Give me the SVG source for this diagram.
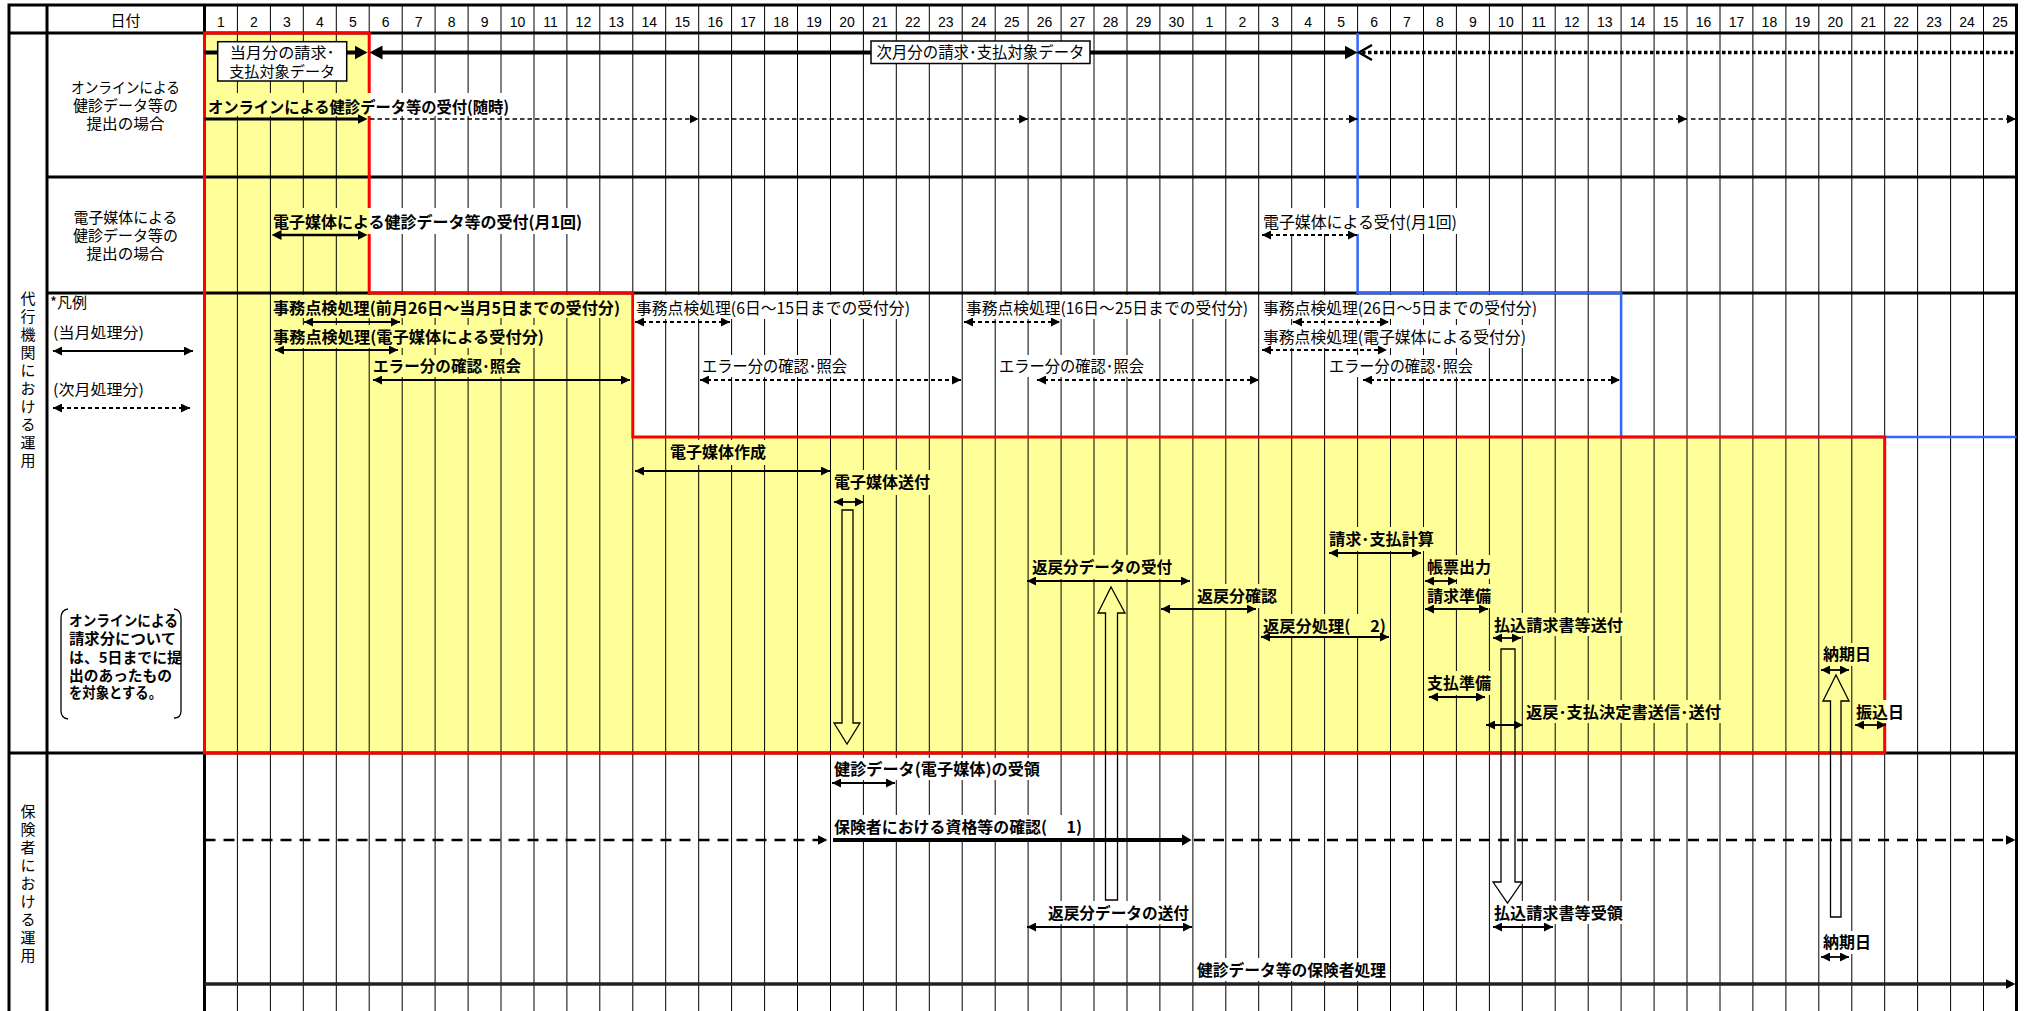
<svg xmlns="http://www.w3.org/2000/svg" width="2025" height="1011" viewBox="0 0 2025 1011">
<defs>
<style>
.t{font-family:"Noto Sans CJK JP","Noto Sans",sans-serif;font-size:16px;fill:#000}
.b{font-weight:bold}
.s15{font-size:15px}
.s14{font-size:14.5px}
.m{text-anchor:middle}
.n{font-family:"Liberation Sans",Arial,sans-serif;font-size:14px;text-anchor:middle;fill:#000}
.grid{stroke:#000;stroke-width:1;fill:none}
.thick{stroke:#000;stroke-width:3;fill:none}
.bw{fill:#fff}
.by{fill:#FFFF99}
.sol{stroke:#000;stroke-width:1.8;fill:none}
.dot{stroke:#000;stroke-width:2;stroke-dasharray:4 3;fill:none}
.blk{stroke:#000;stroke-width:1.3;fill:none}
</style>
<marker id="ah" viewBox="0 0 9 9" refX="9" refY="4.5" markerWidth="9" markerHeight="9" markerUnits="userSpaceOnUse" orient="auto-start-reverse"><path d="M0,0 L9,4.5 L0,9 z" fill="#000"/></marker>
<marker id="ahM" viewBox="0 0 10 10" refX="0.5" refY="5" markerWidth="10" markerHeight="10" markerUnits="userSpaceOnUse" orient="auto-start-reverse"><path d="M0,0 L10,5 L0,10 z" fill="#000"/></marker>
<marker id="ahB" viewBox="0 0 13 14" refX="0.5" refY="7" markerWidth="13" markerHeight="14" markerUnits="userSpaceOnUse" orient="auto-start-reverse"><path d="M0,0 L13,7 L0,14 z" fill="#000"/></marker>
<marker id="ahI" viewBox="0 0 10 12" refX="0.5" refY="6" markerWidth="10" markerHeight="12" markerUnits="userSpaceOnUse" orient="auto-start-reverse"><path d="M0,0 L10,6 L0,12 z" fill="#000"/></marker>
</defs>

<rect width="2025" height="1011" fill="#fff"/>

<g id="yellow-area">
<path d="M204.5,33 H369.2 V293 H632.8 V437 H1884.7 V753 H204.5 Z" fill="#FFFF99"/>
</g>

<g id="grid">
<path class="grid" d="M237.4,5V1011M270.4,5V1011M303.3,5V1011M336.3,5V1011M369.2,5V1011M402.2,5V1011M435.1,5V1011M468.1,5V1011M501,5V1011M534,5V1011M566.9,5V1011M599.8,5V1011M632.8,5V1011M665.7,5V1011M698.7,5V1011M731.6,5V1011M764.6,5V1011M797.5,5V1011M830.5,5V1011M863.4,5V1011M896.3,5V1011M929.3,5V1011M962.2,5V1011M995.2,5V1011M1028.1,5V1011M1061.1,5V1011M1094,5V1011M1127,5V1011M1159.9,5V1011M1192.9,5V1011M1225.8,5V1011M1258.7,5V1011M1291.7,5V1011M1324.6,5V1011M1357.6,5V1011M1390.5,5V1011M1423.5,5V1011M1456.4,5V1011M1489.4,5V1011M1522.3,5V1011M1555.2,5V1011M1588.2,5V1011M1621.1,5V1011M1654.1,5V1011M1687,5V1011M1720,5V1011M1752.9,5V1011M1785.9,5V1011M1818.8,5V1011M1851.8,5V1011M1884.7,5V1011M1917.6,5V1011M1950.6,5V1011M1983.5,5V1011"/>
<path class="thick" d="M9,5H2016.5M9,33H2016.5M47,177H2016.5M47,293H2016.5M9,753H2016.5M9,3.5V1011M47,5V1011M204.5,5V1011M2016.5,3.5V1011"/>
</g>

<g id="outlines">
<path d="M1357.6,33 V293 H1621.1 V437 H2016.5" fill="none" stroke="#3366FF" stroke-width="2.5"/>
<path d="M204.5,33 H369.2 V293 H632.8 V437 H1884.7 V753 H204.5 Z" fill="none" stroke="#FF0000" stroke-width="3"/>
</g>

<g id="header">
<text class="t s15 m" x="125.5" y="25.5">日付</text>
<text class="n" y="27"><tspan x="221">1</tspan><tspan x="253.9">2</tspan><tspan x="286.9">3</tspan><tspan x="319.8">4</tspan><tspan x="352.8">5</tspan><tspan x="385.7">6</tspan><tspan x="418.7">7</tspan><tspan x="451.6">8</tspan><tspan x="484.6">9</tspan><tspan x="517.5">10</tspan><tspan x="550.5">11</tspan><tspan x="583.4">12</tspan><tspan x="616.3">13</tspan><tspan x="649.3">14</tspan><tspan x="682.2">15</tspan><tspan x="715.2">16</tspan><tspan x="748.1">17</tspan><tspan x="781.1">18</tspan><tspan x="814">19</tspan><tspan x="847">20</tspan><tspan x="879.9">21</tspan><tspan x="912.8">22</tspan><tspan x="945.8">23</tspan><tspan x="978.7">24</tspan><tspan x="1011.7">25</tspan><tspan x="1044.6">26</tspan><tspan x="1077.6">27</tspan><tspan x="1110.5">28</tspan><tspan x="1143.5">29</tspan><tspan x="1176.4">30</tspan><tspan x="1209.4">1</tspan><tspan x="1242.3">2</tspan><tspan x="1275.2">3</tspan><tspan x="1308.2">4</tspan><tspan x="1341.1">5</tspan><tspan x="1374.1">6</tspan><tspan x="1407">7</tspan><tspan x="1440">8</tspan><tspan x="1472.9">9</tspan><tspan x="1505.9">10</tspan><tspan x="1538.8">11</tspan><tspan x="1571.7">12</tspan><tspan x="1604.7">13</tspan><tspan x="1637.6">14</tspan><tspan x="1670.6">15</tspan><tspan x="1703.5">16</tspan><tspan x="1736.5">17</tspan><tspan x="1769.4">18</tspan><tspan x="1802.4">19</tspan><tspan x="1835.3">20</tspan><tspan x="1868.3">21</tspan><tspan x="1901.2">22</tspan><tspan x="1934.1">23</tspan><tspan x="1967.1">24</tspan><tspan x="2000">25</tspan></text>
</g>

<g id="section-labels">
<text class="t s15 m"><tspan x="28" y="303.5">代</tspan><tspan x="28" y="321.5">行</tspan><tspan x="28" y="339.5">機</tspan><tspan x="28" y="357.5">関</tspan><tspan x="28" y="375.5">に</tspan><tspan x="28" y="393.5">お</tspan><tspan x="28" y="411.5">け</tspan><tspan x="28" y="429.5">る</tspan><tspan x="28" y="447.5">運</tspan><tspan x="28" y="465.5">用</tspan></text>
<text class="t s15 m"><tspan x="28" y="816.5">保</tspan><tspan x="28" y="834.5">険</tspan><tspan x="28" y="852.5">者</tspan><tspan x="28" y="870.5">に</tspan><tspan x="28" y="888.5">お</tspan><tspan x="28" y="906.5">け</tspan><tspan x="28" y="924.5">る</tspan><tspan x="28" y="942.5">運</tspan><tspan x="28" y="960.5">用</tspan></text>
</g>

<g id="row-labels">
<text class="t s15 m" x="125.5" y="93" textLength="109" lengthAdjust="spacingAndGlyphs">オンラインによる</text>
<text class="t s15 m" x="125.5" y="111" textLength="105" lengthAdjust="spacingAndGlyphs">健診データ等の</text>
<text class="t s15 m" x="125.5" y="129" textLength="78" lengthAdjust="spacingAndGlyphs">提出の場合</text>
<text class="t s15 m" x="125.5" y="223" textLength="104" lengthAdjust="spacingAndGlyphs">電子媒体による</text>
<text class="t s15 m" x="125.5" y="241" textLength="105" lengthAdjust="spacingAndGlyphs">健診データ等の</text>
<text class="t s15 m" x="125.5" y="259" textLength="78" lengthAdjust="spacingAndGlyphs">提出の場合</text>
</g>

<g id="legend">
<text class="t s15" x="50" y="308">*凡例</text>
<text class="t s15" x="53" y="337.5" textLength="91" lengthAdjust="spacingAndGlyphs">(当月処理分)</text>
<text class="t s15" x="53" y="394.5" textLength="91" lengthAdjust="spacingAndGlyphs">(次月処理分)</text>
</g>

<g id="note">
<path class="blk" d="M68,609 Q61,610 61,618 V711 Q61,718 68,719"/>
<path class="blk" d="M174,609 Q181,610 181,618 V711 Q181,718 174,718"/>
<text class="t b s14" x="69" y="625.5" textLength="109" lengthAdjust="spacingAndGlyphs">オンラインによる</text>
<text class="t b s14" x="69" y="643.5" textLength="107" lengthAdjust="spacingAndGlyphs">請求分について</text>
<text class="t b s14" x="69" y="662.5" textLength="113" lengthAdjust="spacingAndGlyphs">は、5日までに提</text>
<text class="t b s14" x="69" y="680.5" textLength="103" lengthAdjust="spacingAndGlyphs">出のあったもの</text>
<text class="t b s14" x="69" y="697.5" textLength="93" lengthAdjust="spacingAndGlyphs">を対象とする。</text>
</g>

<g id="label-backgrounds">
<rect class="by" x="206" y="93" width="163" height="23"/><rect class="bw" x="369" y="93" width="142" height="23"/>
<rect class="by" x="271" y="208" width="98" height="26"/><rect class="bw" x="369" y="208" width="215" height="26"/>
<rect class="bw" x="1260" y="208" width="199" height="26"/>
<rect class="by" x="271" y="295" width="351" height="23"/>
<rect class="by" x="271" y="325" width="275" height="23"/>
<rect class="by" x="371" y="355" width="153" height="22"/>
<rect class="bw" x="634" y="295" width="278" height="24"/>
<rect class="bw" x="964" y="295" width="286" height="24"/>
<rect class="bw" x="1261" y="295" width="278" height="24"/>
<rect class="bw" x="1261" y="325" width="267" height="23"/>
<rect class="bw" x="700" y="355" width="149" height="22"/>
<rect class="bw" x="997" y="355" width="149" height="22"/>
<rect class="bw" x="1327" y="355" width="148" height="22"/>
<rect class="by" x="668" y="440" width="100" height="25"/>
<rect class="by" x="832" y="470" width="100" height="25"/>
<rect class="by" x="1030" y="555" width="144" height="24"/>
<rect class="by" x="1195" y="584" width="84" height="24"/>
<rect class="by" x="1261" y="614" width="127" height="22"/>
<rect class="by" x="1327" y="527" width="109" height="24"/>
<rect class="by" x="1425" y="555" width="67" height="24"/>
<rect class="by" x="1425" y="584" width="67" height="24"/>
<rect class="by" x="1492" y="613" width="133" height="23"/>
<rect class="by" x="1425" y="671" width="67" height="24"/>
<rect class="by" x="1524" y="700" width="199" height="23"/>
<rect class="by" x="1821" y="643" width="52" height="23"/>
<rect class="by" x="1854" y="700" width="31" height="23"/><rect class="bw" x="1885" y="700" width="21" height="23"/>
<rect class="bw" x="832" y="758" width="211" height="22"/>
<rect class="bw" x="832" y="815" width="252" height="23"/>
<rect class="bw" x="1046" y="901" width="145" height="23"/>
<rect class="bw" x="1492" y="901" width="133" height="23"/>
<rect class="bw" x="1821" y="931" width="52" height="23"/>
<rect class="bw" x="1195" y="958" width="193" height="23"/>
</g>

<g id="connectors">
<!-- billing period arrows -->
<line x1="204.5" y1="52.5" x2="355" y2="52.5" stroke="#000" stroke-width="4" marker-end="url(#ahB)"/>
<line x1="382" y1="52.5" x2="1345" y2="52.5" stroke="#000" stroke-width="4" marker-start="url(#ahB)" marker-end="url(#ahB)"/>
<line x1="1362" y1="52.5" x2="2016" y2="52.5" stroke="#000" stroke-width="3.5" stroke-dasharray="3.5 2.5"/>
<polyline points="1372,45 1359,52.5 1372,60" fill="none" stroke="#000" stroke-width="2.5"/>
<!-- online reception -->
<line x1="204.5" y1="119" x2="358" y2="119" stroke="#000" stroke-width="3" marker-end="url(#ahM)"/>
<line x1="370" y1="119" x2="698.7" y2="119" stroke="#000" stroke-width="1.7" stroke-dasharray="4.5 3" marker-end="url(#ah)"/>
<line x1="702" y1="119" x2="1028.1" y2="119" stroke="#000" stroke-width="1.7" stroke-dasharray="4.5 3" marker-end="url(#ah)"/>
<line x1="1031" y1="119" x2="1357.6" y2="119" stroke="#000" stroke-width="1.7" stroke-dasharray="4.5 3" marker-end="url(#ah)"/>
<line x1="1361" y1="119" x2="1687" y2="119" stroke="#000" stroke-width="1.7" stroke-dasharray="4.5 3" marker-end="url(#ah)"/>
<line x1="1691" y1="119" x2="2016" y2="119" stroke="#000" stroke-width="1.7" stroke-dasharray="4.5 3" marker-end="url(#ah)"/>
<!-- media reception -->
<line x1="281" y1="235" x2="358" y2="235" stroke="#000" stroke-width="2.5" marker-start="url(#ahM)" marker-end="url(#ahM)"/>
<line class="dot" x1="1262" y1="235" x2="1357" y2="235" marker-start="url(#ah)" marker-end="url(#ah)"/>
<!-- office checks -->
<line class="sol" x1="304" y1="322" x2="400" y2="322" marker-start="url(#ah)" marker-end="url(#ah)"/>
<line class="sol" x1="275" y1="350" x2="398" y2="350" marker-start="url(#ah)" marker-end="url(#ah)"/>
<line class="sol" x1="373" y1="380" x2="630" y2="380" marker-start="url(#ah)" marker-end="url(#ah)"/>
<line class="dot" x1="635" y1="322" x2="730" y2="322" marker-start="url(#ah)" marker-end="url(#ah)"/>
<line class="dot" x1="964" y1="322" x2="1060" y2="322" marker-start="url(#ah)" marker-end="url(#ah)"/>
<line class="dot" x1="1293" y1="322" x2="1389" y2="322" marker-start="url(#ah)" marker-end="url(#ah)"/>
<line class="dot" x1="1262" y1="350" x2="1387" y2="350" marker-start="url(#ah)" marker-end="url(#ah)"/>
<line class="dot" x1="700" y1="380" x2="961" y2="380" marker-start="url(#ah)" marker-end="url(#ah)"/>
<line class="dot" x1="1037" y1="380" x2="1259" y2="380" marker-start="url(#ah)" marker-end="url(#ah)"/>
<line class="dot" x1="1363" y1="380" x2="1620" y2="380" marker-start="url(#ah)" marker-end="url(#ah)"/>
<!-- legend -->
<line class="sol" x1="53" y1="351" x2="193" y2="351" marker-start="url(#ah)" marker-end="url(#ah)"/>
<line class="dot" x1="53" y1="408" x2="190" y2="408" marker-start="url(#ah)" marker-end="url(#ah)"/>
<!-- processing -->
<line class="sol" x1="635" y1="471" x2="830" y2="471" marker-start="url(#ah)" marker-end="url(#ah)"/>
<line class="sol" x1="834" y1="502" x2="864" y2="502" marker-start="url(#ah)" marker-end="url(#ah)"/>
<line class="sol" x1="1027" y1="581" x2="1190" y2="581" marker-start="url(#ah)" marker-end="url(#ah)"/>
<line class="sol" x1="1161" y1="609" x2="1256" y2="609" marker-start="url(#ah)" marker-end="url(#ah)"/>
<line class="sol" x1="1261" y1="637" x2="1389" y2="637" marker-start="url(#ah)" marker-end="url(#ah)"/>
<line class="sol" x1="1329" y1="553" x2="1421" y2="553" marker-start="url(#ah)" marker-end="url(#ah)"/>
<line class="sol" x1="1425" y1="581" x2="1457" y2="581" marker-start="url(#ah)" marker-end="url(#ah)"/>
<line class="sol" x1="1425" y1="609" x2="1488" y2="609" marker-start="url(#ah)" marker-end="url(#ah)"/>
<line class="sol" x1="1493" y1="638" x2="1521" y2="638" marker-start="url(#ah)" marker-end="url(#ah)"/>
<line class="sol" x1="1429" y1="697" x2="1485" y2="697" marker-start="url(#ah)" marker-end="url(#ah)"/>
<line class="sol" x1="1486" y1="725" x2="1523" y2="725" marker-start="url(#ah)" marker-end="url(#ah)"/>
<line class="sol" x1="1821" y1="670" x2="1849" y2="670" marker-start="url(#ah)" marker-end="url(#ah)"/>
<line class="sol" x1="1855" y1="725" x2="1886" y2="725" marker-start="url(#ah)" marker-end="url(#ah)"/>
<!-- insurer -->
<line class="sol" x1="832" y1="783" x2="895" y2="783" marker-start="url(#ah)" marker-end="url(#ah)"/>
<line x1="204.5" y1="840" x2="818" y2="840" stroke="#000" stroke-width="2.7" stroke-dasharray="11 8" marker-end="url(#ahM)"/>
<line x1="833" y1="840" x2="1182" y2="840" stroke="#000" stroke-width="4" marker-end="url(#ahI)"/>
<line x1="1194" y1="840" x2="2006" y2="840" stroke="#000" stroke-width="2.7" stroke-dasharray="11 8" marker-end="url(#ahM)"/>
<line class="sol" x1="1027" y1="927" x2="1192" y2="927" marker-start="url(#ah)" marker-end="url(#ah)"/>
<line class="sol" x1="1493" y1="927" x2="1553" y2="927" marker-start="url(#ah)" marker-end="url(#ah)"/>
<line class="sol" x1="1821" y1="957" x2="1849" y2="957" marker-start="url(#ah)" marker-end="url(#ah)"/>
<line x1="204.5" y1="984" x2="2006" y2="984" stroke="#222" stroke-width="3.5" marker-end="url(#ahM)"/>
<!-- block arrows -->
<path class="blk" d="M842,510 H853 V723 H860 L847,744 L834,723 H842 Z"/>
<path class="blk" d="M1111,587 L1125,613 H1117.5 V900 H1105.5 V613 H1098 Z"/>
<path class="blk" d="M1501,649 H1515 V882 H1522 L1507.5,903 L1493,882 H1501 Z"/>
<path class="blk" d="M1836,675 L1849,701 H1841 V917 H1830.5 V701 H1823 Z"/>
</g>

<g id="box-current">
<rect x="217.7" y="41.7" width="129" height="39.3" fill="#fff" stroke="#000" stroke-width="1.5"/>
<text class="t s15 m" x="282.2" y="57.5" textLength="105" lengthAdjust="spacingAndGlyphs">当月分の請求･</text>
<text class="t s15 m" x="282.2" y="76.5" textLength="106" lengthAdjust="spacingAndGlyphs">支払対象データ</text>
</g>
<g id="box-next">
<rect x="871" y="41" width="219" height="22.5" fill="#fff" stroke="#000" stroke-width="1.5"/>
<text class="t m" x="980.5" y="58" textLength="208" lengthAdjust="spacingAndGlyphs">次月分の請求･支払対象データ</text>
</g>

<g id="n-online"><text class="t b" x="208" y="113" textLength="301" lengthAdjust="spacingAndGlyphs">オンラインによる健診データ等の受付(随時)</text></g>
<g id="n-media"><text class="t b" x="273" y="228" textLength="309" lengthAdjust="spacingAndGlyphs">電子媒体による健診データ等の受付(月1回)</text></g>
<g id="n-media2"><text class="t" x="1263" y="228" textLength="194" lengthAdjust="spacingAndGlyphs">電子媒体による受付(月1回)</text></g>
<g id="n-check1"><text class="t b" x="273" y="314" textLength="347" lengthAdjust="spacingAndGlyphs">事務点検処理(前月26日～当月5日までの受付分)</text></g>
<g id="n-check2"><text class="t b" x="273" y="343" textLength="271" lengthAdjust="spacingAndGlyphs">事務点検処理(電子媒体による受付分)</text></g>
<g id="n-err1"><text class="t b" x="373" y="372" textLength="148" lengthAdjust="spacingAndGlyphs">エラー分の確認･照会</text></g>
<g id="n-check3"><text class="t" x="636" y="314" textLength="274" lengthAdjust="spacingAndGlyphs">事務点検処理(6日～15日までの受付分)</text></g>
<g id="n-check4"><text class="t" x="966" y="314" textLength="282" lengthAdjust="spacingAndGlyphs">事務点検処理(16日～25日までの受付分)</text></g>
<g id="n-check5"><text class="t" x="1263" y="314" textLength="274" lengthAdjust="spacingAndGlyphs">事務点検処理(26日～5日までの受付分)</text></g>
<g id="n-check6"><text class="t" x="1263" y="343" textLength="263" lengthAdjust="spacingAndGlyphs">事務点検処理(電子媒体による受付分)</text></g>
<g id="n-err2"><text class="t" x="702" y="372" textLength="145" lengthAdjust="spacingAndGlyphs">エラー分の確認･照会</text></g>
<g id="n-err3"><text class="t" x="999" y="372" textLength="145" lengthAdjust="spacingAndGlyphs">エラー分の確認･照会</text></g>
<g id="n-err4"><text class="t" x="1329" y="372" textLength="144" lengthAdjust="spacingAndGlyphs">エラー分の確認･照会</text></g>
<g id="n-make"><text class="t b" x="670" y="458" textLength="96" lengthAdjust="spacingAndGlyphs">電子媒体作成</text></g>
<g id="n-send"><text class="t b" x="834" y="488" textLength="96" lengthAdjust="spacingAndGlyphs">電子媒体送付</text></g>
<g id="n-ret-recv"><text class="t b" x="1032" y="573" textLength="140" lengthAdjust="spacingAndGlyphs">返戻分データの受付</text></g>
<g id="n-ret-check"><text class="t b" x="1197" y="602" textLength="80" lengthAdjust="spacingAndGlyphs">返戻分確認</text></g>
<g id="n-ret-proc"><text class="t b" x="1263" y="632" textLength="123" lengthAdjust="spacingAndGlyphs">返戻分処理(　 2)</text></g>
<g id="n-calc"><text class="t b" x="1329" y="545" textLength="105" lengthAdjust="spacingAndGlyphs">請求･支払計算</text></g>
<g id="n-print"><text class="t b" x="1427" y="573" textLength="64" lengthAdjust="spacingAndGlyphs">帳票出力</text></g>
<g id="n-billprep"><text class="t b" x="1427" y="602" textLength="64" lengthAdjust="spacingAndGlyphs">請求準備</text></g>
<g id="n-billsend"><text class="t b" x="1494" y="631" textLength="129" lengthAdjust="spacingAndGlyphs">払込請求書等送付</text></g>
<g id="n-payprep"><text class="t b" x="1427" y="689" textLength="64" lengthAdjust="spacingAndGlyphs">支払準備</text></g>
<g id="n-decision"><text class="t b" x="1526" y="718" textLength="195" lengthAdjust="spacingAndGlyphs">返戻･支払決定書送信･送付</text></g>
<g id="n-due1"><text class="t b" x="1823" y="660" textLength="48" lengthAdjust="spacingAndGlyphs">納期日</text></g>
<g id="n-transfer"><text class="t b" x="1856" y="718" textLength="48" lengthAdjust="spacingAndGlyphs">振込日</text></g>
<g id="n-ins-recv"><text class="t b" x="834" y="775" textLength="206" lengthAdjust="spacingAndGlyphs">健診データ(電子媒体)の受領</text></g>
<g id="n-ins-check"><text class="t b" x="834" y="833" textLength="248" lengthAdjust="spacingAndGlyphs">保険者における資格等の確認(　 1)</text></g>
<g id="n-ins-ret"><text class="t b" x="1048" y="919" textLength="141" lengthAdjust="spacingAndGlyphs">返戻分データの送付</text></g>
<g id="n-ins-bill"><text class="t b" x="1494" y="919" textLength="129" lengthAdjust="spacingAndGlyphs">払込請求書等受領</text></g>
<g id="n-due2"><text class="t b" x="1823" y="948" textLength="48" lengthAdjust="spacingAndGlyphs">納期日</text></g>
<g id="n-ins-proc"><text class="t b" x="1197" y="976" textLength="189" lengthAdjust="spacingAndGlyphs">健診データ等の保険者処理</text></g>
</svg>
